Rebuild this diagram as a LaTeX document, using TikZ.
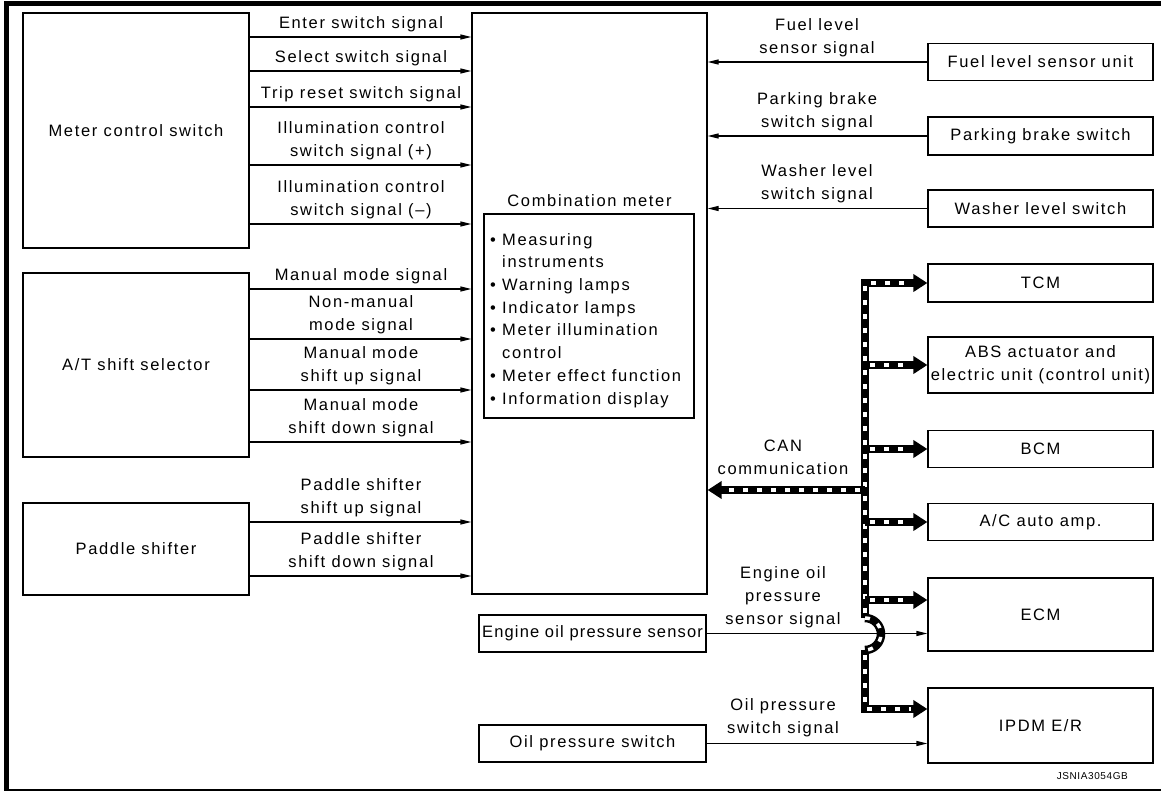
\documentclass[tikz,border=0pt]{standalone}
\usepackage{fontspec}
\setmainfont{Liberation Sans}[LetterSpace=10]
\usetikzlibrary{arrows.meta}

\tikzset{
  box/.style={draw, line width=1.2pt, align=center, inner sep=0pt},
  lab/.style={align=center, inner sep=0pt, anchor=south},
  sig/.style={line width=1.2pt, -{Triangle[length=11pt,width=5pt]}},
  canline/.style={line width=8.5pt, postaction={draw=white, line width=3.5pt, dash pattern=on 5pt off 9pt}},
  canbus/.style={line width=8.5pt, -{Triangle[length=14pt,width=17pt]},
    postaction={draw=white, -, line width=3.5pt, dash pattern=on 5pt off 9pt, shorten <=5pt, shorten >=16pt}}
}

\begin{document}
\begin{tikzpicture}[x=1pt, y=-1pt, font=\fontsize{16.5}{22.7}\selectfont]
\useasboundingbox (0,0) rectangle (1161,792);
% frame
\draw[line width=5pt] (6,790) -- (6,3.5) -- (1161,3.5);
\draw[line width=1.5pt] (4,790) -- (1161,790);

% inputs on the left
\node[box, minimum width=226pt, minimum height=235pt] (mcs) at (136,130.5) {Meter control switch};
\node[box, minimum width=226pt, minimum height=184pt] (ats) at (136,365) {A/T shift selector};
\node[box, minimum width=226pt, minimum height=92pt] (pad) at (136,549) {Paddle shifter};

% combination meter
\node[box, minimum width=235pt, minimum height=581pt] (cm) at (589.5,303.5) {};
\node[anchor=base, inner sep=0pt] (cmt) at (589.5,206) {Combination meter};
\node[box, minimum width=210pt, minimum height=204pt] (fn) at (589,316) {};
\node[anchor=north west, align=left, inner sep=0pt] (fnl) at (490,233)
  {• Measuring\\\hphantom{• }instruments\\• Warning lamps\\• Indicator lamps\\
   • Meter illumination\\\hphantom{• }control\\• Meter effect function\\• Information display};

% units on the right
\node[box, minimum width=225pt, minimum height=37pt] (fuel) at (1040.5,62) {Fuel level sensor unit};
\node[box, minimum width=225pt, minimum height=38pt] (park) at (1040.5,136) {Parking brake switch};
\node[box, minimum width=225pt, minimum height=37pt] (wash) at (1040.5,208.5) {Washer level switch};
\node[box, minimum width=225pt, minimum height=38pt] (tcm) at (1040.5,283) {TCM};
\node[box, minimum width=225pt, minimum height=56pt] (abs) at (1040.5,365) {ABS actuator and\\electric unit (control unit)};
\node[box, minimum width=225pt, minimum height=37pt] (bcm) at (1040.5,449) {BCM};
\node[box, minimum width=225pt, minimum height=37pt] (ac) at (1040.5,522) {A/C auto amp.};
\node[box, minimum width=225pt, minimum height=73pt] (ecm) at (1040.5,614.5) {ECM};
\node[box, minimum width=225pt, minimum height=75pt] (ipdm) at (1040.5,725.5) {IPDM E/R};
\node[box, minimum width=227pt, minimum height=37pt] (eops) at (592.5,633.5) {\addfontfeatures{LetterSpace=7}Engine oil pressure sensor};
\node[box, minimum width=227pt, minimum height=37pt] (ops) at (592.5,743.5) {Oil pressure switch};

% signals into the meter
\foreach \y/\t in {37/{Enter switch signal}, 71/{Select switch signal}, 107/{Trip reset switch signal},
    165/{Illumination control\\switch signal (+)}, 224/{Illumination control\\switch signal (–)}} {
  \draw[sig] (mcs.east |- 0,\y) -- (cm.west |- 0,\y);
  \node[lab] (l\y) at (361,\y-5) {\t};
}
\foreach \y/\t in {289/{Manual mode signal}, 339/{Non-manual\\mode signal},
    390/{Manual mode\\shift up signal}, 442/{Manual mode\\shift down signal}} {
  \draw[sig] (ats.east |- 0,\y) -- (cm.west |- 0,\y);
  \node[lab] (l\y) at (361,\y-5) {\t};
}
\foreach \y/\t in {522/{Paddle shifter\\shift up signal}, 576/{Paddle shifter\\shift down signal}} {
  \draw[sig] (pad.east |- 0,\y) -- (cm.west |- 0,\y);
  \node[lab] (l\y) at (361,\y-5) {\t};
}

\draw[sig] (fuel.west) -- (cm.east |- fuel.west);
\node[lab] (lfuel) at (817,57) {Fuel level\\sensor signal};
\draw[sig] (park.west) -- (cm.east |- park.west);
\node[lab] (lpark) at (817,131) {Parking brake\\switch signal};
\draw[sig] (wash.west) -- (cm.east |- wash.west);
\node[lab] (lwash) at (817,203) {Washer level\\switch signal};

\draw[sig] (eops.east) -- (ecm.west |- eops.east);
\node[lab] (leops) at (783,628) {Engine oil\\pressure\\sensor signal};
\draw[sig] (ops.east) -- (ipdm.west |- ops.east);
\node[lab] (lops) at (783,737) {Oil pressure\\switch signal};

% CAN
\coordinate (bt) at (865,283);
\coordinate (bb) at (865,709);
\coordinate (hu) at (865,618);
\coordinate (hd) at (865,650);
\draw[canbus] (hu) -- (bt) -- (tcm.west);
\draw[canbus] (hd) -- (bb) -- (ipdm.west |- bb);
\draw[canline] (hu) arc[start angle=-90, end angle=90, radius=16];
\draw[canbus] (bt |- abs) -- (abs.west);
\draw[canbus] (bt |- bcm) -- (bcm.west);
\draw[canbus] (bt |- ac) -- (ac.west);
\draw[canbus] (865,600) -- (ecm.west |- 0,600);
\draw[canbus] (865,490) -- (cm.east |- 0,490);
\node[lab] (lcan) at (783,475) {CAN\\communication};

\node[anchor=base east, inner sep=0pt, font=\fontsize{10}{11}\selectfont\addfontfeatures{LetterSpace=6}] (code) at (1128,779) {JSNIA3054GB};
\end{tikzpicture}
\end{document}
